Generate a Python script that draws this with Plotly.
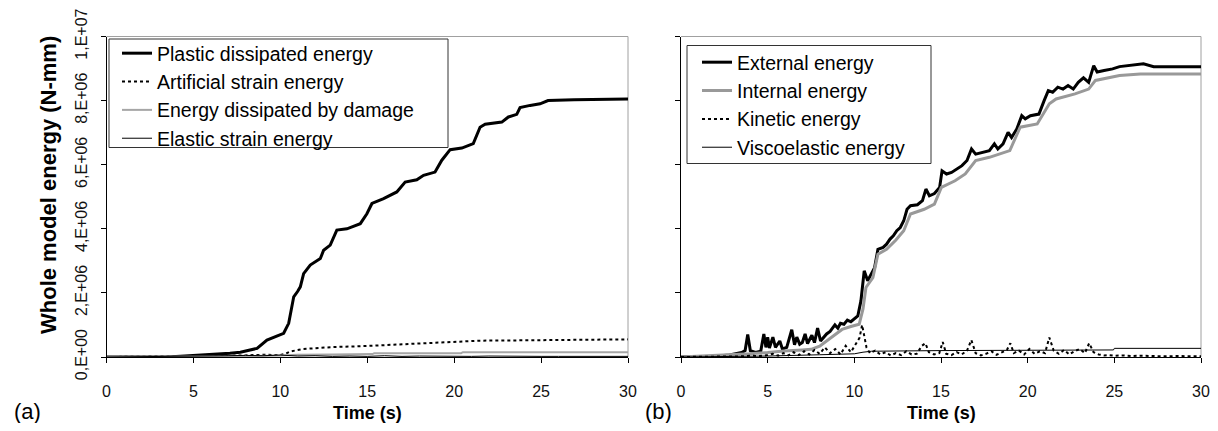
import plotly.graph_objects as go
import numpy as np

# ---------------- data (energies in 1e6 N-mm) ----------------
tick_vals = [0, 2e6, 4e6, 6e6, 8e6, 1e7]
tick_text = ["0,E+00", "2,E+06", "4,E+06", "6,E+06", "8,E+06", "1,E+07"]
x_ticks = [0, 5, 10, 15, 20, 25, 30]

# (a) panel
plastic_t = [0, 3.5, 4.5, 5.5, 6.5, 7.1, 7.7, 8.1, 8.66, 9.23, 9.6, 10.0, 10.19, 10.48, 10.62, 10.77,
             11.0, 11.15, 11.34, 11.72, 12.3, 12.49, 12.87, 13.25, 13.83, 14.6, 14.98, 15.27, 15.94,
             16.7, 17.18, 17.85, 18.24, 18.9, 19.29, 19.77, 20.44, 21.1, 21.49, 21.78, 22.74, 23.12,
             23.6, 23.79, 24.37, 24.94, 25.4, 26.9, 30]
plastic_v = [0, 0.0, 0.03, 0.06, 0.09, 0.12, 0.15, 0.2, 0.27, 0.53, 0.62, 0.7, 0.74, 1.05, 1.45, 1.88,
             2.05, 2.19, 2.6, 2.87, 3.07, 3.33, 3.49, 3.96, 4.0, 4.16, 4.47, 4.79, 4.94,
             5.15, 5.46, 5.53, 5.67, 5.77, 6.14, 6.47, 6.52, 6.66, 7.17, 7.26, 7.33, 7.49,
             7.57, 7.78, 7.85, 7.9, 8.0, 8.03, 8.05]

artificial_t = [0, 4, 6, 8, 9, 10, 10.3, 10.56, 11.3, 11.9, 13, 14.8, 17.1, 19, 21.3, 21.5, 24, 27, 30]
artificial_v = [0, 0.01, 0.03, 0.05, 0.07, 0.06, 0.1, 0.17, 0.25, 0.27, 0.31, 0.34, 0.4, 0.45, 0.49,
                0.51, 0.52, 0.53, 0.55]

damage_t = [0, 7, 8.5, 10, 11, 13, 15.3, 15.4, 20.4, 20.5, 30]
damage_v = [0, 0.01, 0.03, 0.05, 0.07, 0.08, 0.09, 0.115, 0.12, 0.15, 0.15]

elastic_t = [0, 4, 5, 6, 7, 8, 9, 10, 10.5, 11, 12, 13, 14, 15, 16, 17, 18, 19, 20, 21, 22, 23, 24,
             25, 26, 27, 28, 29, 30]
elastic_v = [0, 0.01, 0.02, 0.03, 0.04, 0.05, 0.04, 0.06, 0.05, 0.03, 0.04, 0.02, 0.03, 0.02, 0.04,
             0.02, 0.03, 0.02, 0.03, 0.02, 0.03, 0.02, 0.03, 0.02, 0.02, 0.02, 0.02, 0.02, 0.02]

# (b) panel
external_t = [0, 2.0, 2.8, 3.5, 3.7, 3.85, 4.0, 4.3, 4.6, 4.78,
              4.9, 5.0, 5.1, 5.3, 5.45, 5.7, 5.85, 6.1, 6.39, 6.55,
              6.68, 6.85, 7.0, 7.16, 7.3, 7.55, 7.7, 7.88, 8.05, 8.23,
              8.4, 8.6, 8.88, 9.05, 9.2, 9.4, 9.6, 9.8, 10.0, 10.2,
              10.38, 10.57, 10.77, 10.97, 11.17, 11.36, 11.66, 11.86, 12.06, 12.25,
              12.45, 12.65, 12.85, 13.04, 13.24, 13.64, 13.93, 14.13, 14.33, 14.62,
              14.92, 15.06, 15.32, 15.61, 15.91, 16.21, 16.5, 16.76, 17.0, 17.39,
              17.79, 18.08, 18.28, 18.58, 18.87, 19.07, 19.37, 19.66, 19.86, 20.16,
              20.65, 20.95, 21.19, 21.44, 21.74, 22.04, 22.33, 22.63, 22.92, 23.22,
              23.52, 23.81, 24.01, 24.41, 24.9, 25.3, 25.89, 26.68, 27.27, 30]
external_v = [0, 0.02, 0.06, 0.14, 0.2, 0.7, 0.2, 0.14, 0.18, 0.72,
              0.3, 0.62, 0.28, 0.62, 0.3, 0.5, 0.25, 0.3, 0.85, 0.38,
              0.62, 0.4, 0.45, 0.72, 0.42, 0.68, 0.45, 0.9, 0.5, 0.62,
              0.72, 0.8, 1.0, 0.9, 1.05, 1.02, 1.15, 1.1, 1.2, 1.28,
              1.75, 2.69, 2.38, 2.58, 2.79, 3.36, 3.42, 3.52, 3.68, 3.78,
              3.94, 4.04, 4.25, 4.61, 4.72, 4.75, 4.88, 5.24, 5.03, 5.1,
              5.29, 5.81, 5.71, 5.76, 5.86, 5.97, 6.13, 6.49, 6.33, 6.39,
              6.44, 6.65, 6.49, 6.65, 7.01, 6.85, 7.11, 7.53, 7.43, 7.53,
              7.58, 8.0, 8.31, 8.26, 8.42, 8.36, 8.47, 8.36, 8.57, 8.71,
              8.57, 9.09, 8.89, 8.94, 8.99, 9.06, 9.09, 9.15, 9.06, 9.06]

internal_t = [0, 2.77, 3.95, 5.0, 5.93, 7.0, 7.51, 8.0, 8.5, 9.29,
              9.8, 10.28, 10.5, 10.67, 11.07, 11.36, 11.86, 12.4, 12.85, 13.24,
              14.03, 14.62, 15.02, 15.81, 16.4, 17.0, 17.79, 18.97, 19.57, 20.55,
              21.25, 21.64, 22.73, 23.52, 23.91, 25.3, 26.5, 30]
internal_v = [0, 0.06, 0.1, 0.14, 0.19, 0.22, 0.24, 0.34, 0.55, 0.86,
              0.95, 1.02, 1.5, 2.17, 2.48, 3.21, 3.36, 3.65, 3.94, 4.46,
              4.61, 4.77, 5.29, 5.5, 5.71, 6.13, 6.23, 6.44, 7.17, 7.27,
              7.9, 8.05, 8.21, 8.36, 8.63, 8.78, 8.83, 8.83]

kinetic_t = [0, 3.0, 3.5, 4.0, 4.5, 5.0, 5.3, 5.6, 5.9, 6.2,
             6.5, 6.8, 7.1, 7.4, 7.7, 8.0, 8.3, 8.6, 8.9, 9.2,
             9.5, 9.8, 10.1, 10.3, 10.45, 10.55, 10.7, 10.9, 11.2, 11.5,
             11.8, 12.1, 12.4, 12.7, 13.0, 13.3, 13.6, 13.9, 14.1, 14.3,
             14.6, 14.9, 15.1, 15.3, 15.6, 15.9, 16.2, 16.5, 16.75, 17.0,
             17.3, 17.6, 17.9, 18.2, 18.5, 18.8, 19.0, 19.2, 19.5, 19.8,
             20.1, 20.4, 20.7, 21.0, 21.25, 21.5, 21.8, 22.1, 22.4, 22.7,
             23.0, 23.3, 23.55, 23.8, 24.1, 24.4, 24.7, 25.0, 25.5, 26,
             26.5, 27, 27.5, 28, 28.5, 29, 29.5, 30]
kinetic_v = [0, 0.01, 0.02, 0.04, 0.03, 0.06, 0.1, 0.04, 0.12, 0.05,
             0.15, 0.06, 0.18, 0.08, 0.22, 0.1, 0.3, 0.12, 0.25, 0.08,
             0.35, 0.15, 0.4, 0.6, 1.0, 0.7, 0.3, 0.12, 0.2, 0.08,
             0.15, 0.05, 0.12, 0.06, 0.18, 0.08, 0.1, 0.35, 0.43, 0.15,
             0.08, 0.12, 0.47, 0.1, 0.06, 0.15, 0.08, 0.2, 0.53, 0.12,
             0.05, 0.1, 0.18, 0.07, 0.15, 0.22, 0.43, 0.12, 0.2, 0.08,
             0.25, 0.1, 0.18, 0.12, 0.61, 0.2, 0.1, 0.22, 0.08, 0.18,
             0.25, 0.12, 0.43, 0.15, 0.08, 0.05, 0.06, 0.04, 0.05, 0.03,
             0.04, 0.03, 0.04, 0.02, 0.03, 0.02, 0.03, 0.02]

visco_t = [0, 3, 5, 8, 10, 10.5, 11, 15, 20, 24.95, 25.0, 30]
visco_v = [0, 0.01, 0.03, 0.07, 0.1, 0.15, 0.18, 0.2, 0.21, 0.22, 0.27, 0.27]

SCALE = 1e6
FONT = "Arial, Liberation Sans, sans-serif"


def mm(v):
    return np.asarray(v, dtype=float) * SCALE


fig = go.Figure()

# ---- panel (a) ----
fig.add_trace(go.Scatter(x=plastic_t, y=mm(plastic_v), name="Plastic dissipated energy", mode="lines",
                         line=dict(color="black", width=3), xaxis="x", yaxis="y", legend="legend"))
fig.add_trace(go.Scatter(x=artificial_t, y=mm(artificial_v), name="Artificial strain energy", mode="lines",
                         line=dict(color="black", width=2, dash="dot"), xaxis="x", yaxis="y", legend="legend"))
fig.add_trace(go.Scatter(x=damage_t, y=mm(damage_v), name="Energy dissipated by damage", mode="lines",
                         line=dict(color="#a6a6a6", width=2), xaxis="x", yaxis="y", legend="legend"))
fig.add_trace(go.Scatter(x=elastic_t, y=mm(elastic_v), name="Elastic strain energy", mode="lines",
                         line=dict(color="black", width=1), xaxis="x", yaxis="y", legend="legend"))

# ---- panel (b) ----
fig.add_trace(go.Scatter(x=external_t, y=mm(external_v), name="External energy", mode="lines",
                         line=dict(color="black", width=3), xaxis="x2", yaxis="y2", legend="legend2"))
fig.add_trace(go.Scatter(x=internal_t, y=mm(internal_v), name="Internal energy", mode="lines",
                         line=dict(color="#999999", width=3), xaxis="x2", yaxis="y2", legend="legend2"))
fig.add_trace(go.Scatter(x=kinetic_t, y=mm(kinetic_v), name="Kinetic energy", mode="lines",
                         line=dict(color="black", width=2, dash="dot"), xaxis="x2", yaxis="y2", legend="legend2"))
fig.add_trace(go.Scatter(x=visco_t, y=mm(visco_v), name="Viscoelastic energy", mode="lines",
                         line=dict(color="black", width=1), xaxis="x2", yaxis="y2", legend="legend2"))

# page body has an 8 px margin, so the figure is 16 px smaller than the window
OFF = 8
W, H = 1218 - 2 * OFF, 431 - 2 * OFF


def px_x(p):
    return (p - OFF) / W


def px_y(p):
    return 1 - (p - OFF) / H


xdom1 = [px_x(106.5), px_x(628)]
xdom2 = [px_x(681), px_x(1201)]
ydom = [px_y(357), px_y(36.5)]

xaxis_common = dict(range=[0, 30], tickvals=x_ticks, ticks="outside", ticklen=5, tickcolor="black",
                    showline=True, linecolor="black", linewidth=1, showgrid=False, zeroline=False,
                    automargin=False,
                    tickfont=dict(family=FONT, size=16, color="#111111"), ticklabelstandoff=15)
yaxis_common = dict(range=[0, 1e7], tickvals=tick_vals, ticks="outside", ticklen=5, tickcolor="black",
                    showline=True, linecolor="black", linewidth=1, showgrid=False, zeroline=False,
                    automargin=False)

LEG_FONT = 19.5
legend_common = dict(xanchor="left", yanchor="top", borderwidth=0, bgcolor="rgba(0,0,0,0)",
                     font=dict(family=FONT, size=LEG_FONT, color="black"), tracegroupgap=0, itemwidth=30)

fig.update_layout(
    width=W, height=H,
    margin=dict(l=0, r=0, t=0, b=0, autoexpand=False),
    paper_bgcolor="white", plot_bgcolor="white",
    xaxis=dict(domain=xdom1, anchor="y", **xaxis_common),
    yaxis=dict(domain=ydom, anchor="x", ticktext=tick_text, tickangle=-90,
               tickfont=dict(family=FONT, size=16, color="#111111"), ticklabelstandoff=7, **yaxis_common),
    xaxis2=dict(domain=xdom2, anchor="y2", **xaxis_common),
    yaxis2=dict(domain=ydom, anchor="x2", showticklabels=False, **yaxis_common),
    legend=dict(x=px_x(117), y=px_y(34), **legend_common),
    legend2=dict(x=px_x(697), y=px_y(43), **legend_common),
    showlegend=True,
)

# gray top/right frame of plot areas
for xr, yr in (("x domain", "y domain"), ("x2 domain", "y2 domain")):
    fig.add_shape(type="line", xref=xr, yref=yr, x0=0, x1=1, y0=1, y1=1,
                  line=dict(color="#a0a0a0", width=1), layer="below")
    fig.add_shape(type="line", xref=xr, yref=yr, x0=1, x1=1, y0=0, y1=1,
                  line=dict(color="#a0a0a0", width=1), layer="below")

# legend frames
for (l, t, r, b) in ((109, 39, 448, 147.5), (687, 45.5, 931, 163.5)):
    fig.add_shape(type="rect", xref="paper", yref="paper", x0=px_x(l), x1=px_x(r), y0=px_y(b), y1=px_y(t),
                  line=dict(color="#333333", width=1), fillcolor="white", layer="above")

# titles and panel labels
fig.add_annotation(text="<b>Whole model energy (N-mm)</b>", x=px_x(48), y=px_y(185), xref="paper", yref="paper",
                   textangle=-90, showarrow=False, font=dict(family=FONT, size=22, color="black"),
                   xanchor="center", yanchor="middle")
for cx in (367, 941):
    fig.add_annotation(text="<b>Time (s)</b>", x=px_x(cx), y=px_y(413), xref="paper", yref="paper",
                       showarrow=False, font=dict(family=FONT, size=18, color="black"),
                       xanchor="center", yanchor="middle")
fig.add_annotation(text="(a)", x=px_x(27), y=px_y(411), xref="paper", yref="paper", showarrow=False,
                   font=dict(family=FONT, size=22, color="black"), xanchor="center", yanchor="middle")
fig.add_annotation(text="(b)", x=px_x(658), y=px_y(411), xref="paper", yref="paper", showarrow=False,
                   font=dict(family=FONT, size=22, color="black"), xanchor="center", yanchor="middle")

fig.write_html("out.html")
